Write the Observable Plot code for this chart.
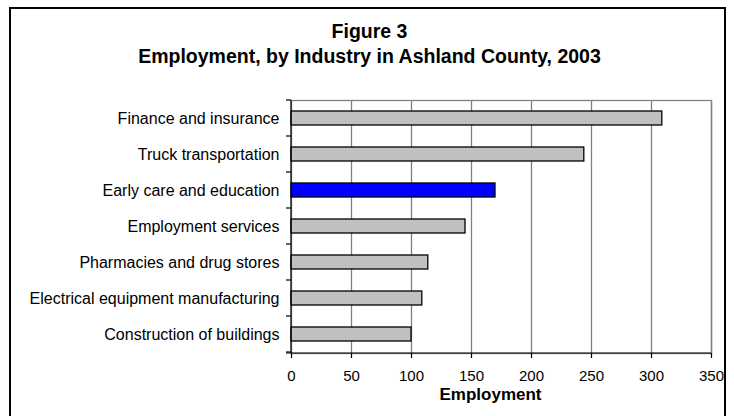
<!DOCTYPE html>
<html><head><meta charset="utf-8">
<script src="https://cdn.jsdelivr.net/npm/d3@7"></script>
<script src="https://cdn.jsdelivr.net/npm/@observablehq/plot@0.6"></script>
<style>
body{margin:0;background:#fff;}
#wrap{position:relative;width:734px;height:416px;overflow:hidden;font-family:"Liberation Sans",Arial,sans-serif;}
#border{position:absolute;left:9px;top:7px;width:717px;height:420px;border:2px solid #000;box-sizing:border-box;}
.t{position:absolute;left:12px;width:715px;text-align:center;font-weight:bold;font-size:19.5px;line-height:19.5px;color:#000;white-space:nowrap;}
#chart{position:absolute;left:0;top:0;}
</style></head><body>
<div id="wrap"><div id="chart"></div><div id="border"></div>
<div class="t" id="t1" style="top:22px"></div>
<div class="t" id="t2" style="top:47px"></div>
</div>
<script>
const industries = [
  "Finance and insurance",
  "Truck transportation",
  "Early care and education",
  "Employment services",
  "Pharmacies and drug stores",
  "Electrical equipment manufacturing",
  "Construction of buildings"
];
const employment = [309, 244, 170, 145, 114, 109, 100];
const highlight = "Early care and education";
const xTicks = [0, 50, 100, 150, 200, 250, 300, 350];
const titleLines = ["Figure 3", "Employment, by Industry in Ashland County, 2003"];
const xLabel = "Employment";

document.getElementById("t1").textContent = titleLines[0];
document.getElementById("t2").textContent = titleLines[1];

const data = industries.map((d, i) => ({industry: d, value: employment[i]}));

function axisLines(index, scales, values, dim) {
  const g = d3.create("svg:g");
  const x0 = dim.marginLeft, x1 = dim.width - dim.marginRight;
  const yt = dim.marginTop, yb = dim.height - dim.marginBottom;
  const y = scales.y;
  const n = industries.length;
  let bounds;
  if (y && typeof y.step === "function") {
    const s = y.step(), bw = y.bandwidth();
    bounds = industries.map(c => y(c) + bw / 2 - s / 2);
    bounds.push(bounds[n - 1] + s);
  } else {
    bounds = d3.range(n + 1).map(i => yt + (yb - yt) * i / n);
  }
  for (const b of bounds) {
    g.append("line").attr("x1", x0 - 5).attr("x2", x0).attr("y1", b).attr("y2", b)
      .attr("stroke", "#000").attr("stroke-width", 1.2);
  }
  g.append("line").attr("x1", x0).attr("x2", x0).attr("y1", yt).attr("y2", yb)
    .attr("stroke", "#000").attr("stroke-width", 1.2);
  g.append("line").attr("x1", x0 - 5).attr("x2", x1).attr("y1", yb).attr("y2", yb)
    .attr("stroke", "#000").attr("stroke-width", 1.2);
  return g.node();
}

const chart = Plot.plot({
  width: 734,
  height: 416,
  marginLeft: 291,
  marginRight: 23,
  marginTop: 100,
  marginBottom: 63,
  style: {fontFamily: "Liberation Sans, Arial, sans-serif", background: "transparent", color: "#000"},
  x: {domain: [0, 350], ticks: xTicks, label: null},
  y: {domain: industries, paddingInner: 0.6, paddingOuter: 0.3, label: null},
  marks: [
    Plot.ruleX(xTicks.slice(1), {stroke: "#808080", strokeWidth: 1.3, strokeOpacity: 1}),
    Plot.frame({stroke: "#808080", strokeWidth: 1.3}),
    Plot.barX(data, {
      x: "value", y: "industry",
      fill: d => d.industry === highlight ? "#0000ff" : "#c0c0c0",
      stroke: "#000", strokeWidth: 1.3
    }),
    axisLines,
    Plot.axisX({ticks: xTicks, tickSize: 5, tickPadding: 12, fontSize: 15, stroke: "#000", strokeWidth: 1.2, label: null}),
    Plot.axisY({tickSize: 0, tickPadding: 12, fontSize: 16, label: null}),
    Plot.text([xLabel], {frameAnchor: "bottom", dy: 46, dx: -11, fontWeight: "bold", fontSize: 17, fill: "#000"})
  ]
});
document.getElementById("chart").append(chart);
</script>
</body></html>
